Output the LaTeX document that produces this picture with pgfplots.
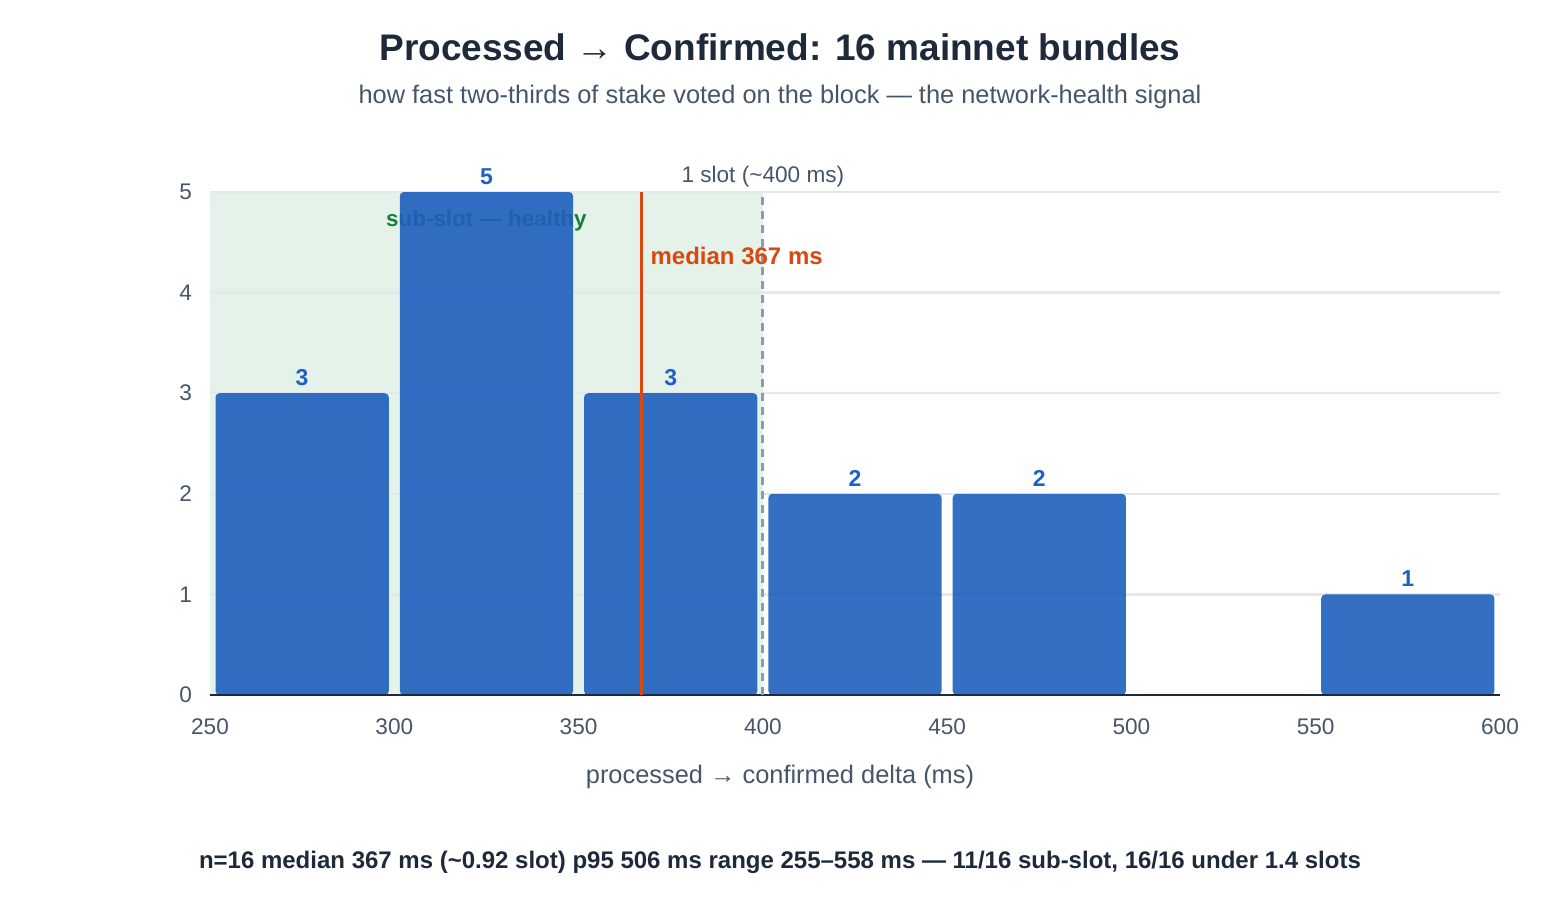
\documentclass[border=0pt]{standalone}
\usepackage{fontspec}
\setmainfont{Liberation Sans}
\usepackage{pgfplots}
\pgfplotsset{compat=1.18}
\definecolor{barblue}{RGB}{29,95,188}
\definecolor{labblue}{RGB}{30,96,196}
\definecolor{subzone}{RGB}{229,242,234}
\definecolor{gridc}{RGB}{226,232,240}
\definecolor{axisdark}{RGB}{30,41,59}
\definecolor{tickgray}{RGB}{71,85,105}
\definecolor{slotgray}{RGB}{140,155,176}
\definecolor{medred}{RGB}{217,72,15}
\definecolor{okgreen}{RGB}{21,128,61}
\definecolor{titledark}{RGB}{30,41,59}

% histogram of processed -> confirmed deltas (bin centre, count)
\pgfplotstableread{
x   n
275 3
325 5
375 3
425 2
475 2
575 1
}\bins

\begin{document}
\begin{tikzpicture}
\path (0pt,0pt) rectangle (780pt,450pt);

\node[font=\bfseries\fontsize{18.5}{22}\selectfont, text=titledark] at (390pt,426.5pt)
  {Processed → Confirmed: 16 mainnet bundles};
\node[font=\fontsize{12.7}{15}\selectfont, text=tickgray] at (390pt,401.5pt)
  {how fast two-thirds of stake voted on the block — the network-health signal};
\node[font=\fontsize{12.7}{15}\selectfont, text=tickgray] at (390pt,61.5pt)
  {processed → confirmed delta (ms)};
\node[font=\bfseries\fontsize{12}{14}\selectfont, text=titledark] at (390pt,19pt)
  {n=16 median 367 ms (\textasciitilde0.92 slot) p95 506 ms range 255–558 ms — 11/16 sub-slot, 16/16 under 1.4 slots};

\begin{axis}[
  set layers,
  at={(105pt,102.5pt)}, anchor=south west,
  scale only axis, width=645pt, height=251.5pt,
  xmin=250, xmax=600, ymin=0, ymax=5,
  axis lines*=left,
  x axis line style={draw=none},
  y axis line style={draw=none},
  xtick={250,300,...,600}, ytick={0,1,...,5},
  major tick length=0pt,
  ymajorgrids, grid style={gridc, line width=1.2pt},
  ticklabel style={text=tickgray, font=\fontsize{11.3}{13}\selectfont},
  /pgf/number format/assume math mode=true,
  xticklabel style={yshift=-8.5pt},
  yticklabel style={xshift=-5.5pt},
  clip=false,
]
% sub-slot zone
\begin{pgfonlayer}{axis background}
  \fill[subzone] (axis cs:250,0) rectangle (axis cs:400,5);
\end{pgfonlayer}

\node[font=\bfseries\fontsize{11.2}{13}\selectfont, text=okgreen] at (axis cs:325,4.71) {sub-slot — healthy};

\addplot[ybar, bar width=47, fill=barblue, fill opacity=0.9, draw=none,
  rounded corners=2pt,
  nodes near coords,
  every node near coord/.append style={text=labblue, text opacity=1,
    font=\bfseries\fontsize{11.5}{13}\selectfont, inner sep=2pt, yshift=1.5pt}]
  table[x=x, y=n] {\bins};

% baseline over the bar feet
\draw[axisdark, line width=1.4pt] (axis cs:250,0) -- (axis cs:600,0);

% one slot reference and median
\addplot[slotgray, line width=1.6pt, dash pattern=on 4pt off 3pt] coordinates {(400,0) (400,5)};
\addplot[medred, line width=1.5pt] coordinates {(367,0) (367,5)};

\node[anchor=south, text=tickgray, font=\fontsize{11.3}{13}\selectfont, inner sep=2pt]
  at (axis cs:400,5) {1 slot (\textasciitilde400 ms)};
\node[anchor=west, text=medred, font=\bfseries\fontsize{12}{14}\selectfont, inner sep=0pt, xshift=4.5pt]
  at (axis cs:367,4.36) {median 367 ms};
\end{axis}
\end{tikzpicture}
\end{document}
